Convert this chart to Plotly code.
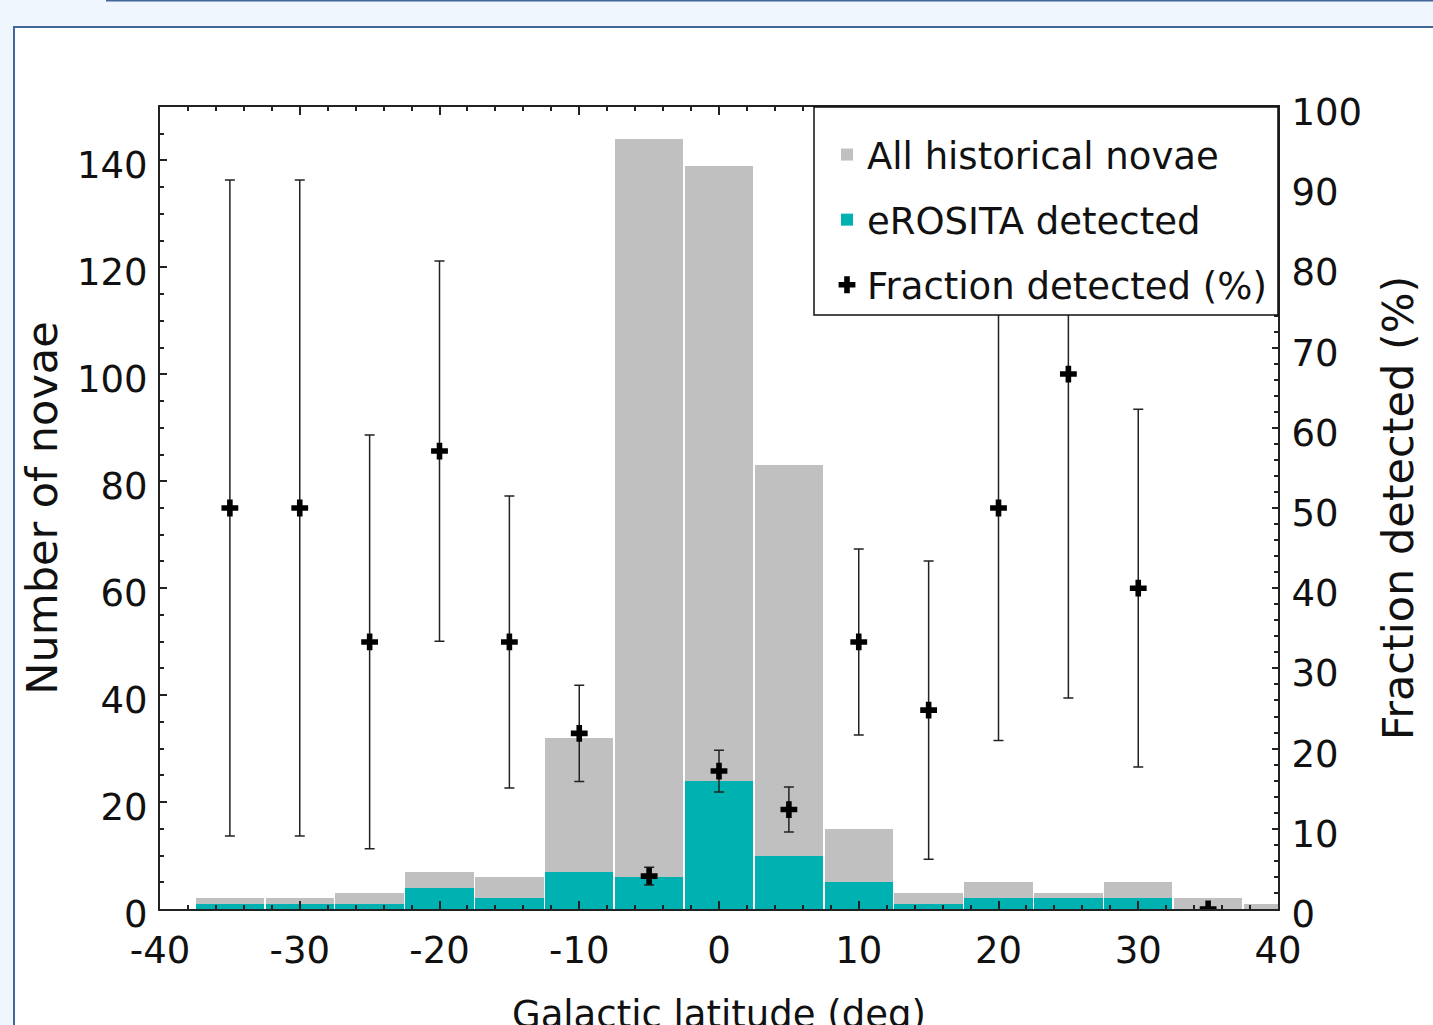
import plotly.graph_objects as go

# ---------------- data ----------------
bin_centers = [-35, -30, -25, -20, -15, -10, -5, 0, 5, 10, 15, 20, 25, 30, 35, 40]
all_novae = [2, 2, 3, 7, 6, 32, 144, 139, 83, 15, 3, 5, 3, 5, 2, 1]
erosita_detected = [1, 1, 1, 4, 2, 7, 6, 24, 10, 5, 1, 2, 2, 2, 0, 0]

frac_lat = [-35, -30, -25, -20, -15, -10, -5, 0, 5, 10, 15, 20, 25, 30, 35]
frac_pct = [50, 50, 33.3, 57.1, 33.3, 21.9, 4.1, 17.2, 12.4, 33.3, 24.8, 50, 66.7, 40, 0]
frac_err = [40.9, 40.9, 25.8, 23.7, 18.2, 6.0, 1.1, 2.6, 2.8, 11.6, 18.6, 29, 40.4, 22.3, 0]

x_tick_vals = [-40, -30, -20, -10, 0, 10, 20, 30, 40]
x_tick_text = ["-40", "-30", "-20", "-10", "0", "10", "20", "30", "40"]

x_title = "Galactic latitude (deg)"

# ---------------- styling ----------------
FONT = "DejaVu Sans"
GRAY = "#c0c0c0"
TEAL = "#00b1b1"
AXC = "#222222"
W, H = 1433, 1025
L, R, T, B = 160, 155, 107, 116
PW, PH = W - L - R, H - T - B


def px2paper_x(px):
    return (px - L) / PW


def px2paper_y(py):
    return (H - B - py) / PH


fig = go.Figure()

fig.add_trace(go.Bar(
    x=bin_centers, y=all_novae, width=4.9,
    marker=dict(color=GRAY, line=dict(width=0)),
    name="All historical novae", legendgroup="a",
))
fig.add_trace(go.Bar(
    x=bin_centers, y=erosita_detected, width=4.9,
    marker=dict(color=TEAL, line=dict(width=0)),
    name="eROSITA detected", legendgroup="b",
))
fig.add_trace(go.Scatter(
    x=frac_lat, y=frac_pct, yaxis="y2", mode="markers",
    marker=dict(symbol="cross", size=14, color="black"),
    error_y=dict(type="data", array=frac_err, symmetric=True,
                 color=AXC, thickness=1.5, width=5),
    name="Fraction detected (%)", legendgroup="c",
))

tickfont = dict(family=FONT, size=37, color="#111")

fig.update_layout(
    width=W, height=H,
    margin=dict(l=L, r=R, t=T, b=B, autoexpand=False),
    paper_bgcolor="#eff6fd",
    plot_bgcolor="rgba(0,0,0,0)",
    barmode="overlay",
    bargap=0,
    font=dict(family=FONT, size=37, color="#111"),
    xaxis=dict(
        range=[-40, 40], tickvals=x_tick_vals, ticktext=x_tick_text,
        ticks="inside", ticklen=8, tickwidth=1.5, tickcolor=AXC,
        minor=dict(dtick=2, tick0=0, ticks="inside", ticklen=4, tickwidth=1.5, tickcolor=AXC),
        showline=True, linecolor=AXC, linewidth=2, mirror="ticks",
        showgrid=False, zeroline=False, tickfont=tickfont,
        ticklabelstandoff=8,
        automargin=False,
    ),
    yaxis=dict(
        range=[0, 150], dtick=20, tick0=0,
        ticks="inside", ticklen=7, tickwidth=1.5, tickcolor=AXC,
        minor=dict(dtick=5, tick0=0, ticks="inside", ticklen=4, tickwidth=1.5, tickcolor=AXC),
        showline=True, linecolor=AXC, linewidth=2,
        showgrid=False, zeroline=False, tickfont=tickfont,
        ticklabelstandoff=3, ticklabelshift=5,
        title=dict(text="Number of novae", font=dict(family=FONT, size=43, color="#111"), standoff=6),
        automargin=False,
    ),
    yaxis2=dict(
        range=[0, 100], dtick=10, tick0=0, overlaying="y", side="right",
        ticks="inside", ticklen=6, tickwidth=1.5, tickcolor=AXC,
        minor=dict(dtick=2, tick0=0, ticks="inside", ticklen=4, tickwidth=1.5, tickcolor=AXC),
        showline=True, linecolor=AXC, linewidth=2,
        showgrid=False, zeroline=False, tickfont=tickfont,
        ticklabelstandoff=4, ticklabelshift=5,
        title=dict(text="Fraction detected (%)", font=dict(family=FONT, size=43, color="#111"), standoff=22),
        automargin=False,
    ),
    legend=dict(
        x=px2paper_x(827), xanchor="left", y=px2paper_y(124), yanchor="top",
        bgcolor="rgba(0,0,0,0)", borderwidth=0,
        font=dict(family=FONT, size=37, color="#111"),
        tracegroupgap=14, traceorder="grouped",
    ),
    showlegend=True,
)

# x-axis title (partly cut off by the bottom of the page, as in the original)
fig.add_annotation(text=x_title, xref="paper", yref="paper",
                   x=0.5, xanchor="center", y=px2paper_y(991), yanchor="top",
                   showarrow=False, font=dict(family=FONT, size=37, color="#111"))

# page frame: white panel with blue border, and a blue rule at the very top
fig.add_shape(type="rect", xref="paper", yref="paper", layer="below",
              x0=px2paper_x(14), x1=px2paper_x(W + 20),
              y0=px2paper_y(H + 20), y1=px2paper_y(27),
              fillcolor="white", line=dict(color="#41679b", width=2))
fig.add_shape(type="line", xref="paper", yref="paper", layer="below",
              x0=px2paper_x(106), x1=px2paper_x(W + 20),
              y0=px2paper_y(0.5), y1=px2paper_y(0.5),
              line=dict(color="#41679b", width=2))
# legend box (white, covers the data behind the legend)
fig.add_shape(type="rect", xref="paper", yref="paper", layer="above",
              x0=px2paper_x(814), x1=1.0, y0=px2paper_y(315), y1=1.0,
              fillcolor="white", line=dict(color="#111", width=1.5))

fig.write_html("out.html")
